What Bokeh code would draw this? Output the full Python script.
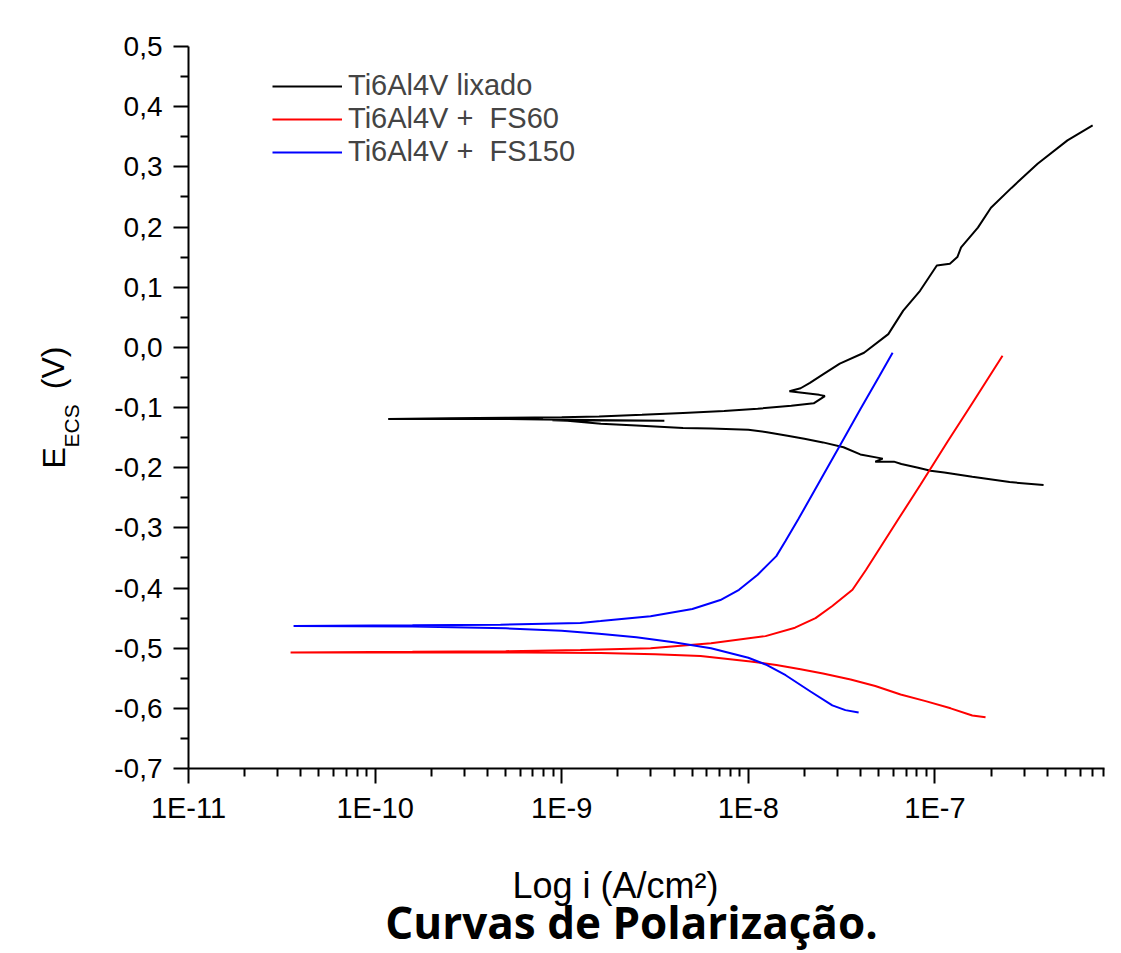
import numpy as np
from bokeh.plotting import figure
from bokeh.layouts import row, column
from bokeh.models import Range1d, FixedTicker, Legend, LegendItem, Label
from bokeh.embed import file_html
from bokeh.resources import INLINE

# ---------------- data (log10 of current density A/cm2, potential V vs ECS) ----------------
lixado_log_i = [-6.418, -6.60, -6.80, -6.95, -7.024, -7.09, -7.18, -7.22, -7.32, -7.28,
                -7.40, -7.49, -7.60, -7.70, -7.79, -7.90, -8.00, -8.20, -8.35, -8.60,
                -8.79, -8.97, -9.05, -8.45, -9.10, -9.33, -9.60, -9.93,
                -9.60, -9.30, -9.00, -8.80, -8.57, -8.35, -8.13, -7.95, -7.77, -7.65,
                -7.59, -7.62, -7.78, -7.72, -7.67, -7.60, -7.51, -7.38, -7.25, -7.17,
                -7.08, -6.99, -6.92, -6.88, -6.86, -6.77, -6.70, -6.59, -6.45, -6.29, -6.155]
lixado_E = [-0.229, -0.224, -0.215, -0.208, -0.205, -0.200, -0.194, -0.190, -0.190, -0.185,
            -0.178, -0.166, -0.158, -0.152, -0.147, -0.141, -0.137, -0.135, -0.134, -0.130,
            -0.127, -0.122, -0.121, -0.122, -0.120, -0.119, -0.119, -0.119,
            -0.118, -0.117, -0.116, -0.115, -0.112, -0.109, -0.106, -0.102, -0.097, -0.093,
            -0.081, -0.079, -0.073, -0.068, -0.059, -0.045, -0.027, -0.009, 0.022, 0.061,
            0.094, 0.136, 0.139, 0.150, 0.166, 0.199, 0.232, 0.265, 0.305, 0.344, 0.369]

fs60_log_i = [-6.729, -6.80, -6.916, -7.05, -7.184, -7.32, -7.452, -7.60, -7.720, -7.85,
              -7.988, -8.256, -8.50, -8.792, -9.20, -9.80, -10.453,
              -9.80, -9.30, -8.90, -8.524, -8.20, -7.908, -7.75, -7.640, -7.55, -7.442,
              -7.37, -7.30, -7.195, -7.077, -6.933, -6.80, -6.638]
fs60_E = [-0.615, -0.612, -0.600, -0.588, -0.577, -0.563, -0.552, -0.542, -0.535, -0.528,
          -0.522, -0.513, -0.510, -0.508, -0.507, -0.507, -0.507,
          -0.506, -0.505, -0.503, -0.500, -0.492, -0.480, -0.466, -0.450, -0.430, -0.403,
          -0.370, -0.336, -0.285, -0.228, -0.157, -0.093, -0.014]

fs150_log_i = [-7.409, -7.48, -7.55, -7.667, -7.80, -7.90, -8.00, -8.20, -8.40, -8.60,
               -8.80, -9.00, -9.30, -9.80, -10.437,
               -9.80, -9.328, -8.90, -8.792, -8.524, -8.30, -8.15, -8.05, -7.95, -7.85,
               -7.801, -7.731, -7.60, -7.50, -7.40, -7.30, -7.227]
fs150_E = [-0.607, -0.603, -0.595, -0.572, -0.545, -0.528, -0.516, -0.500, -0.490, -0.482,
           -0.476, -0.471, -0.467, -0.464, -0.463,
           -0.462, -0.461, -0.458, -0.455, -0.447, -0.435, -0.420, -0.403, -0.378, -0.347,
           -0.322, -0.285, -0.213, -0.158, -0.103, -0.049, -0.009]

series_names = ["Ti6Al4V lixado", "Ti6Al4V +  FS60", "Ti6Al4V +  FS150"]

x_tick_values = [1e-11, 1e-10, 1e-9, 1e-8, 1e-7]
x_tick_labels = ["1E-11", "1E-10", "1E-9", "1E-8", "1E-7"]
y_tick_values = [-0.7, -0.6, -0.5, -0.4, -0.3, -0.2, -0.1, 0.0, 0.1, 0.2, 0.3, 0.4, 0.5]
y_tick_labels = ["-0,7", "-0,6", "-0,5", "-0,4", "-0,3", "-0,2", "-0,1",
                 "0,0", "0,1", "0,2", "0,3", "0,4", "0,5"]

x_label = "Log i (A/cm\u00b2)"
y_label_main = "E"
y_label_sub = "ECS"
y_label_unit = "(V)"
chart_title = "Curvas de Polarização."

# ---------------- layout sizes ----------------
LEFT_W = 100      # strip holding the y-axis title
MAIN_W = 1020
TOP_H = 830
BOTTOM_H = 122

# ---------------- main figure ----------------
p = figure(width=MAIN_W, height=TOP_H, x_axis_type="log",
           x_range=Range1d(1e-11, 8.1e-7), y_range=Range1d(-0.7, 0.5),
           output_backend="svg", toolbar_location=None,
           min_border_left=88, min_border_right=16, min_border_top=46, min_border_bottom=62)
p.outline_line_color = None
p.xgrid.visible = False
p.ygrid.visible = False
p.background_fill_color = "white"
p.border_fill_color = "white"

x_minor = [m * 10.0 ** k for k in range(-11, -6) for m in range(2, 10)]
y_minor = [round(v + 0.05, 2) for v in y_tick_values[:-1]]

p.xaxis.ticker = FixedTicker(ticks=x_tick_values, minor_ticks=x_minor)
p.xaxis.major_label_overrides = dict(zip(x_tick_values, x_tick_labels))
p.yaxis.ticker = FixedTicker(ticks=y_tick_values, minor_ticks=y_minor)
p.yaxis.major_label_overrides = dict(zip(y_tick_values, y_tick_labels))

for ax in (p.xaxis, p.yaxis):
    ax.axis_line_width = 2
    ax.axis_line_color = "black"
    ax.major_tick_line_width = 2
    ax.minor_tick_line_width = 2
    ax.major_tick_line_color = "black"
    ax.minor_tick_line_color = "black"
    ax.major_tick_out = 15
    ax.major_tick_in = 0
    ax.minor_tick_out = 8
    ax.minor_tick_in = 0
    ax.major_label_text_font = "Liberation Sans"
    ax.major_label_text_color = "black"
p.xaxis.major_label_standoff = 8
p.yaxis.major_label_standoff = 11
p.xaxis.major_label_text_font_size = "29px"
p.yaxis.major_label_text_font_size = "28px"

r_black = p.line(10.0 ** np.array(lixado_log_i), lixado_E, line_color="black", line_width=2)
r_red = p.line(10.0 ** np.array(fs60_log_i), fs60_E, line_color="#ff0000", line_width=2)
r_blue = p.line(10.0 ** np.array(fs150_log_i), fs150_E, line_color="#0000ff", line_width=2)

legend = Legend(items=[LegendItem(label=series_names[0], renderers=[r_black]),
                       LegendItem(label=series_names[1], renderers=[r_red]),
                       LegendItem(label=series_names[2], renderers=[r_blue])],
                location=(84, 600), glyph_width=70, glyph_height=30, label_height=30,
                label_text_font_size="29px", label_text_font="Liberation Sans",
                spacing=0, padding=0, margin=0, border_line_alpha=0,
                background_fill_alpha=0, label_standoff=6)
p.add_layout(legend)

# ---------------- strip for the y-axis title ----------------
ylab = figure(width=LEFT_W, height=TOP_H, x_range=Range1d(0, LEFT_W), y_range=Range1d(0, TOP_H),
              x_axis_location=None, y_axis_location=None, output_backend="svg",
              toolbar_location=None, min_border=0)
ylab.outline_line_color = None
ylab.grid.visible = False
ylab.add_layout(Label(x=53, y=TOP_H - 485, text=y_label_main, angle=np.pi / 2,
                      text_font="Liberation Sans", text_font_size="32px",
                      text_align="left", text_baseline="alphabetic", text_color="black"))
ylab.add_layout(Label(x=71, y=TOP_H - 461, text=y_label_sub, angle=np.pi / 2,
                      text_font="Liberation Sans", text_font_size="21px",
                      text_align="left", text_baseline="alphabetic", text_color="black"))
ylab.add_layout(Label(x=52, y=TOP_H - 394, text=y_label_unit, angle=np.pi / 2,
                      text_font="Liberation Sans", text_font_size="32px",
                      text_align="left", text_baseline="alphabetic", text_color="black"))

# ---------------- strip for the x-axis title and the caption ----------------
bot = figure(width=LEFT_W + MAIN_W, height=BOTTOM_H, x_range=Range1d(0, LEFT_W + MAIN_W),
             y_range=Range1d(0, BOTTOM_H), x_axis_location=None, y_axis_location=None,
             output_backend="svg", toolbar_location=None, min_border=0)
bot.outline_line_color = None
bot.grid.visible = False
bot.add_layout(Label(x=615, y=67, text=x_label,
                     text_font="Liberation Sans", text_font_size="36px",
                     text_align="center", text_baseline="alphabetic", text_color="black"))
bot.add_layout(Label(x=631, y=31, text=chart_title,
                     text_font="Open Sans", text_font_style="bold", text_font_size="44px",
                     text_align="center", text_baseline="alphabetic", text_color="black"))

layout = column(row(ylab, p), bot)
open("out.html", "w").write(file_html(layout, INLINE))
